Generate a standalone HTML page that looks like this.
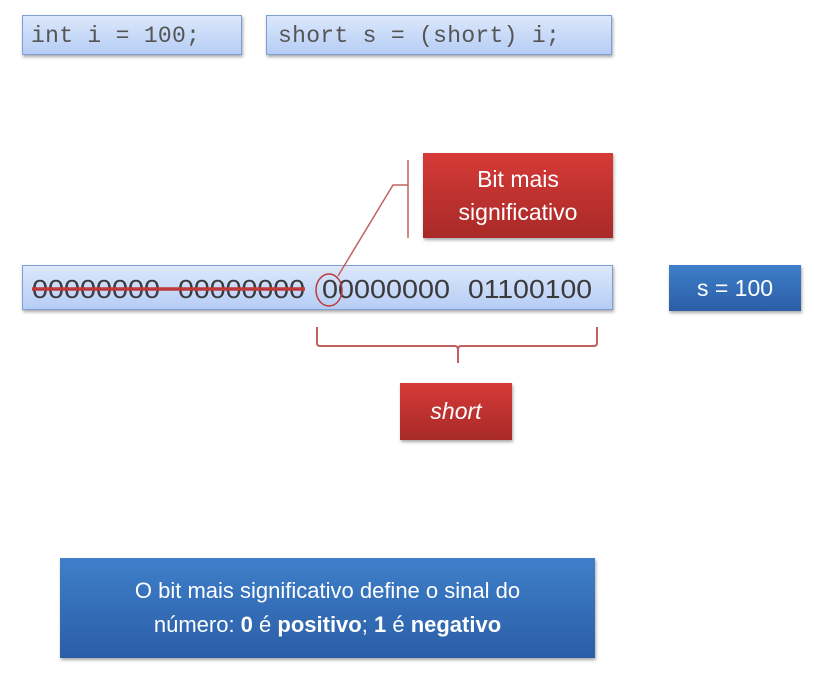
<!DOCTYPE html>
<html><head><style>
body{margin:0;width:814px;height:675px;background:#fff;position:relative;overflow:hidden;font-family:"Liberation Sans",sans-serif}
.code{position:absolute;box-sizing:border-box;background:linear-gradient(#dce8fb,#b5cdf5);border:1px solid #7f9fd4;box-shadow:1px 2px 3px rgba(0,0,0,.35);font-family:"Liberation Mono",monospace;color:#555;font-size:23px;line-height:40px;padding-left:8px;letter-spacing:0.3px}
.red{position:absolute;box-sizing:border-box;background:linear-gradient(#d63a37,#a82a28);color:#fff;text-align:center;box-shadow:1px 2px 3px rgba(0,0,0,.35)}
.blue{position:absolute;box-sizing:border-box;background:linear-gradient(#3f7fca,#2a5ea6);color:#fff;text-align:center;box-shadow:1px 2px 3px rgba(0,0,0,.35)}
</style></head><body>
<div class="code" style="left:22px;top:15px;width:220px;height:40px">int i = 100;</div>
<div class="code" style="left:266px;top:15px;width:346px;height:40px;padding-left:11px">short s = (short) i;</div>
<div class="red" style="left:423px;top:153px;width:190px;height:85px;font-size:23px;line-height:33px;padding-top:10px">Bit mais<br>significativo</div>
<div class="code" style="left:22px;top:265px;width:591px;height:45px"></div>
<div class="blue" style="left:669px;top:265px;width:132px;height:46px;font-size:23px;line-height:46px">s = 100</div>
<div class="red" style="left:400px;top:383px;width:112px;height:57px;font-size:23px;line-height:57px;font-style:italic">short</div>
<div class="blue" style="left:60px;top:558px;width:535px;height:100px;font-size:22px;line-height:34px;padding-top:16px">O bit mais significativo define o sinal do<br>número: <b>0</b> é <b>positivo</b>; <b>1</b> é <b>negativo</b></div>
<svg width="814" height="675" style="position:absolute;left:0;top:0">
<g font-family="Liberation Sans, sans-serif" font-size="26" fill="#3a3a3a">
<text x="32" y="298" textLength="128" lengthAdjust="spacingAndGlyphs">00000000</text>
<text x="178" y="298" textLength="127" lengthAdjust="spacingAndGlyphs">00000000</text>
<text x="322" y="298" textLength="128" lengthAdjust="spacingAndGlyphs">00000000</text>
<text x="468" y="298" textLength="124" lengthAdjust="spacingAndGlyphs">01100100</text>
</g>
<line x1="32" y1="289" x2="305" y2="289" stroke="#c0393a" stroke-width="3.5"/>
<ellipse cx="329" cy="290" rx="13" ry="16" fill="none" stroke="#c0393a" stroke-width="1.5"/>
<polyline points="338,276 393,185 408,185" fill="none" stroke="#c26060" stroke-width="1.5"/>
<line x1="408" y1="160" x2="408" y2="238" stroke="#c26060" stroke-width="1.5"/>
<path d="M317,327 V343 Q317,346 320,346 H455 Q458,346 458,350 V363 M458,350 Q458,346 461,346 H594 Q597,346 597,343 V327" fill="none" stroke="#c26060" stroke-width="2"/>
</svg>
</body></html>
